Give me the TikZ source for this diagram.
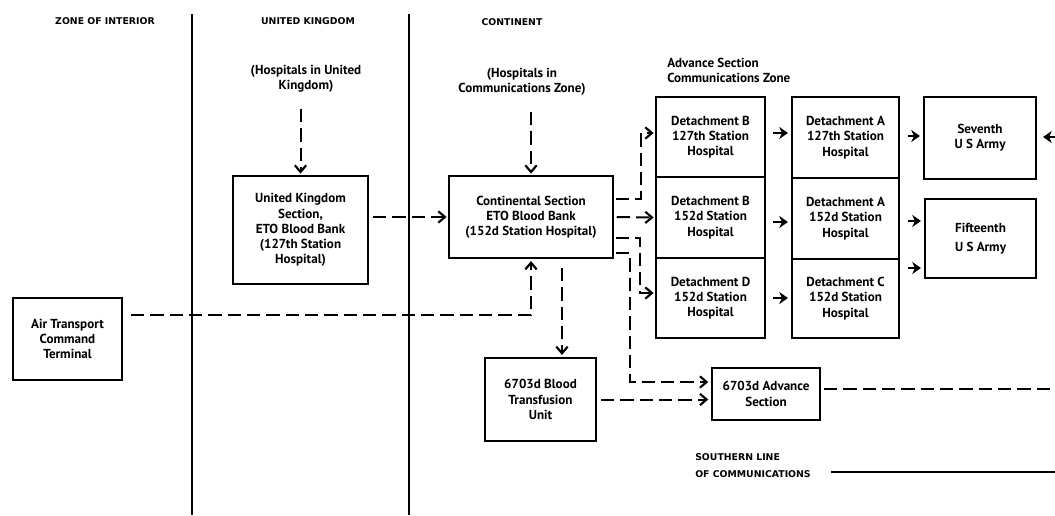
\documentclass[tikz,border=0pt]{standalone}
\usepackage{fontspec}
\setmainfont{PT Sans}
\newfontfamily\boxfont{PT Sans}
\newfontfamily\hdrfont{DejaVu Sans}
\usetikzlibrary{arrows.meta,calc}
\begin{document}
\begin{tikzpicture}[x=0.75pt,y=-0.75pt,
  box/.style={draw, line width=1.6pt, align=center, inner sep=0pt,
    font=\boxfont\bfseries\fontsize{9.8pt}{11.4pt}\selectfont},
  hdr/.style={font=\hdrfont\bfseries\fontsize{7pt}{12.75pt}\selectfont, align=left, inner sep=0pt},
  lbl/.style={font=\boxfont\bfseries\fontsize{9.8pt}{11.25pt}\selectfont, align=center, inner sep=0pt},
  dtip/.style={-{Straight Barb[length=5pt,width=8.5pt,line width=1.6pt]}},
  stip/.style={-{Stealth[length=6.5pt,width=9pt,inset=2pt]}},
  dln/.style={line width=1.5pt, dash pattern=on 10pt off 4.5pt},
  darr/.style={dln, dtip},
  sarr/.style={line width=1.7pt, stip},
  divider/.style={line width=2pt}]
\useasboundingbox (0,0) rectangle (1055,515);

% dividers
\coordinate (d1t) at (192,14); \coordinate (d1b) at (192,515);
\coordinate (d2t) at (409,14); \coordinate (d2b) at (409,515);
\draw[divider] (d1t) -- (d1b);
\draw[divider] (d2t) -- (d2b);

% headers
\node[hdr] (zi) at (105,21) {ZONE OF INTERIOR};
\node[hdr] (ukhd) at (308,21) {UNITED KINGDOM};
\node[hdr] (cohd) at (512,22) {CONTINENT};
\node[lbl] (ukh) at (306,79) {(Hospitals in United\\Kingdom)};
\node[lbl] (conth) at (522,82) {(Hospitals in\\Communications Zone)};
\node[lbl, align=left, anchor=west] (asz) at (667,70) {Advance Section\\Communications Zone};
\node[hdr, anchor=west] (sol) at (695,465.5) {SOUTHERN LINE\\OF COMMUNICATIONS};

% boxes
\node[box, minimum width=81.75pt, minimum height=61.5pt] (atc) at (67.5,339) {Air Transport\\Command\\Terminal};
\node[box, minimum width=101.25pt, minimum height=81pt] (uk) at (300.5,230) {United Kingdom\\Section,\\ETO Blood Bank\\(127th Station\\Hospital)};
\node[box, minimum width=123pt, minimum height=61.5pt] (cont) at (531,217) {Continental Section\\ETO Blood Bank\\(152d Station Hospital)};
\node[box, minimum width=83.25pt, minimum height=62.25pt] (btu) at (540.5,399.5) {6703d Blood\\Transfusion\\Unit};
\node[box, minimum width=81pt, minimum height=39pt] (adv) at (766,394) {6703d Advance\\Section};
\node[box, minimum width=81.75pt, minimum height=60pt] (db127) at (710.5,137) {Detachment B\\127th Station\\Hospital};
\node[box, minimum width=81.75pt, minimum height=60.75pt] (db152) at (710.5,217.5) {Detachment B\\152d Station\\Hospital};
\node[box, minimum width=81.75pt, minimum height=60pt] (dd) at (710.5,298) {Detachment D\\152d Station\\Hospital};
\node[box, minimum width=80.25pt, minimum height=60.75pt] (da127) at (845.5,137.5) {Detachment A\\127th Station\\Hospital};
\node[box, minimum width=80.25pt, minimum height=60.75pt] (da152) at (845.5,218.5) {Detachment A\\152d Station\\Hospital};
\node[box, minimum width=80.25pt, minimum height=59.25pt] (dc) at (845.5,298.5) {Detachment C\\152d Station\\Hospital};
\node[box, minimum width=84pt, minimum height=61.5pt] (sev) at (980,138) {Seventh\\U S Army};
\node[box, minimum width=83.25pt, minimum height=59.25pt] (fif) at (980.5,238.5) {Fifteenth\\[3pt]U S Army};

% dashed connectors
\draw[darr, shorten >=1pt] ($(ukh.south -| uk.north)+(0,16)$) -- (uk.north);
\draw[darr, shorten >=1pt] ($(conth.south -| cont.north)+(0,16)$) -- (cont.north);
\draw[darr, shorten <=3pt, shorten >=1pt] (uk.east |- cont.west) -- (cont.west);
\draw[darr, shorten >=1.5pt] ($(atc.east)+(8,-24)$) -| (cont.south);
\coordinate (c5) at ($(cont.south)+(31,9)$);
\draw[darr, shorten >=1.5pt] (c5) -- (c5 |- btu.north);
\draw[darr, shorten >=1pt] ($(cont.east)+(2,-18)$) -- ++(25,0) |- ($(db127.west)+(0,-4)$);
\draw[darr, shorten <=2pt, shorten >=1pt] (cont.east) -- (db152.west);
\draw[darr, shorten >=1pt] ($(cont.east)+(2,21)$) -- ++(24,0) |- ($(dd.west)+(0,-5)$);
\draw[darr, shorten >=2pt] ($(cont.east)+(2,36)$) -- ++(14,0) |- ($(adv.west)+(0,-12)$);
\draw[darr, shorten <=3pt, shorten >=2pt] (btu.east) -- (btu.east -| adv.west);
\coordinate (re1) at (1055,389);
\draw[dln] ($(adv.east)+(3,-5)$) -- (re1);

% solid arrows
\draw[sarr] ($(db127.east)+(7,-4)$) -- ($(da127.west)+(-3,-4.5)$);
\draw[sarr] ($(db152.east)+(7,4.5)$) -- ($(da152.west)+(-3,3.5)$);
\draw[sarr] ($(dd.east)+(7,0)$) -- ($(dc.west)+(-3,-0.5)$);
\draw[sarr] ($(da127.east)+(8,-1.5)$) -- ($(sev.west)+(-3,-2)$);
\draw[sarr] ($(da152.east)+(8,2.5)$) -- ($(fif.west)+(-3,-17.5)$);
\draw[sarr] ($(dc.east)+(8,-30.5)$) -- ($(fif.west)+(-3,29.5)$);
\coordinate (re2) at (1055,137);
\draw[sarr] (re2) -- ($(sev.east)+(6,-1)$);

% southern line of communications
\coordinate (sl) at (831,472); \coordinate (re3) at (1055,472);
\draw[line width=1.5pt] (sl) -- (re3);
\end{tikzpicture}
\end{document}
